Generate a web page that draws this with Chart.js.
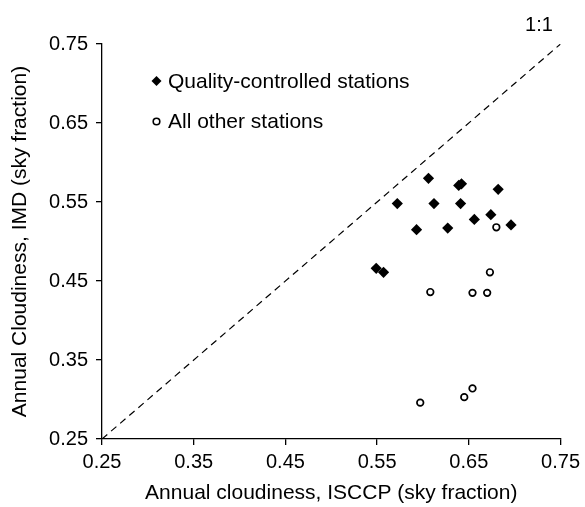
<!DOCTYPE html>
<html>
<head>
<meta charset="utf-8">
<script src="https://cdn.jsdelivr.net/npm/chart.js@4"></script>
<style>
html,body{margin:0;padding:0;background:#fff;}
#wrap{width:585px;height:507px;position:relative;}
</style>
</head>
<body>
<div id="wrap"><canvas id="c" width="585" height="507"></canvas></div>
<script>
const xTicks = [0.25, 0.35, 0.45, 0.55, 0.65, 0.75];
const yTicks = [0.25, 0.35, 0.45, 0.55, 0.65, 0.75];

const qcISCCP = [0.606, 0.639, 0.642, 0.682, 0.572, 0.612, 0.641, 0.656, 0.674, 0.696, 0.593, 0.627, 0.549, 0.557];
const qcIMD   = [0.580, 0.571, 0.573, 0.566, 0.548, 0.548, 0.548, 0.528, 0.534, 0.521, 0.515, 0.517, 0.466, 0.461];

const otherISCCP = [0.680, 0.673, 0.608, 0.654, 0.670, 0.597, 0.645, 0.654];
const otherIMD   = [0.518, 0.461, 0.436, 0.435, 0.435, 0.296, 0.303, 0.314];

const oneToOne = [0.25, 0.75];

const seriesNames = ['Quality-controlled stations', 'All other stations'];
const xTitle = 'Annual cloudiness, ISCCP (sky fraction)';
const yTitle = 'Annual Cloudiness, IMD (sky fraction)';
const lineLabel = '1:1';

const FONT = "'Liberation Sans', Arial, Helvetica, sans-serif";
const FS = 20;   // tick labels
const FT = 21;   // titles, legend

const toPts = (xs, ys) => xs.map((x, i) => ({x: x, y: ys[i]}));

const legendPlugin = {
  id: 'customLegend',
  afterDraw(chart) {
    const ctx = chart.ctx;
    ctx.save();
    ctx.font = FT + 'px ' + FONT;
    ctx.fillStyle = '#000';
    ctx.textBaseline = 'middle';
    ctx.textAlign = 'left';
    const lx = 156.5;
    const y1 = 81, y2 = 121.5;
    ctx.beginPath();
    const r = 5;
    ctx.moveTo(lx, y1 - r); ctx.lineTo(lx + r, y1); ctx.lineTo(lx, y1 + r); ctx.lineTo(lx - r, y1); ctx.closePath();
    ctx.fill();
    ctx.fillText(seriesNames[0], 168, y1 + 1);
    ctx.beginPath();
    ctx.arc(lx, y2, 3.3, 0, Math.PI * 2);
    ctx.lineWidth = 1.6;
    ctx.strokeStyle = '#000';
    ctx.stroke();
    ctx.fillText(seriesNames[1], 168, y2 + 1);
    ctx.textAlign = 'center';
    ctx.font = FS + 'px ' + FONT;
    ctx.fillText(lineLabel, 539, 25);
    ctx.restore();
  }
};

new Chart(document.getElementById('c'), {
  type: 'scatter',
  data: {
    datasets: [
      {
        type: 'line',
        label: lineLabel,
        data: toPts(oneToOne, oneToOne),
        borderColor: '#000',
        borderWidth: 1.2,
        borderDash: [7, 5],
        pointRadius: 0,
        fill: false,
        order: 3
      },
      {
        label: seriesNames[1],
        data: toPts(otherISCCP, otherIMD),
        pointStyle: 'circle',
        pointRadius: 3.3,
        pointBorderWidth: 1.7,
        borderColor: '#000',
        backgroundColor: '#fff',
        order: 2
      },
      {
        label: seriesNames[0],
        data: toPts(qcISCCP, qcIMD),
        pointStyle: 'rectRot',
        pointRadius: 5.6,
        borderWidth: 0,
        borderColor: '#000',
        backgroundColor: '#000',
        order: 1
      }
    ]
  },
  options: {
    responsive: false,
    animation: false,
    devicePixelRatio: 1,
    layout: { padding: { top: 44, right: 23, left: 0, bottom: 0 } },
    plugins: { legend: { display: false }, tooltip: { enabled: false } },
    scales: {
      x: {
        type: 'linear',
        min: 0.25, max: 0.75,
        afterBuildTicks(s) { s.ticks = xTicks.map(v => ({value: v})); },
        afterFit(s) { s.height = 68; },
        grid: { display: true, drawOnChartArea: false, drawTicks: true, tickLength: 6, color: '#000', lineWidth: 1.3 },
        border: { display: true, color: '#000', width: 1.3 },
        ticks: { color: '#000', font: { family: FONT, size: FS }, padding: 5, maxRotation: 0,
                 callback: v => v.toFixed(2) },
        title: { display: true, text: xTitle, color: '#000', font: { family: FONT, size: FT }, padding: { top: 0, bottom: 1 } }
      },
      y: {
        type: 'linear',
        min: 0.25, max: 0.75,
        afterBuildTicks(s) { s.ticks = yTicks.map(v => ({value: v})); },
        afterFit(s) { s.width = 102; },
        grid: { display: true, drawOnChartArea: false, drawTicks: true, tickLength: 6, color: '#000', lineWidth: 1.3 },
        border: { display: true, color: '#000', width: 1.3 },
        ticks: { color: '#000', font: { family: FONT, size: FS }, padding: 8,
                 callback: v => v.toFixed(2) },
        title: { display: true, text: yTitle, color: '#000', font: { family: FONT, size: FT }, padding: { top: 8, bottom: 0 } }
      }
    }
  },
  plugins: [legendPlugin]
});
</script>
</body>
</html>
